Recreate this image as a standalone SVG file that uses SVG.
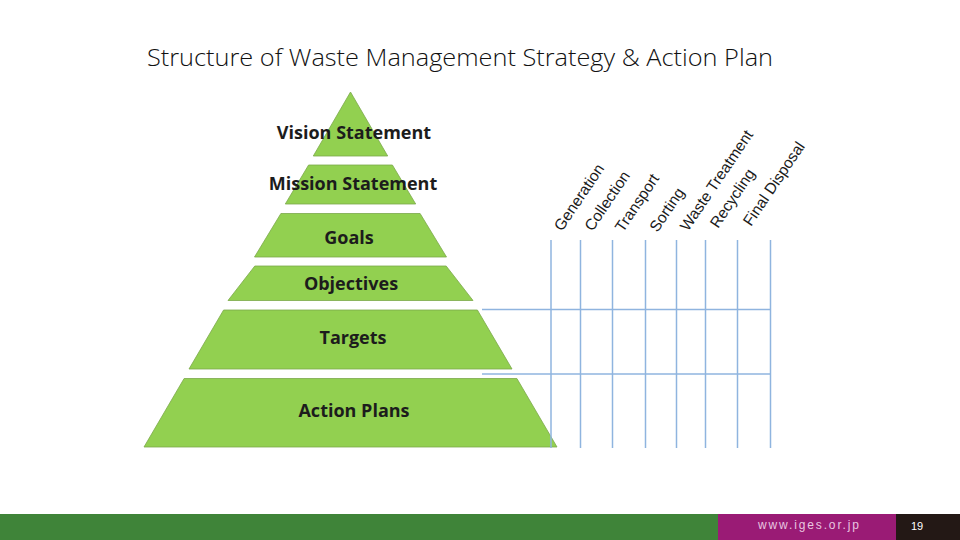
<svg xmlns="http://www.w3.org/2000/svg" width="960" height="540" viewBox="0 0 960 540">
<style>
.band{fill:#92D050;stroke:#7BA84A;stroke-width:0.8}
.lbl{font-family:"Open Sans","Noto Sans","Liberation Sans",sans-serif;font-weight:700;font-size:18px;fill:#1C1C1C;text-anchor:middle}
.grid{stroke:#8FB4DF;stroke-width:1.5;fill:none}
.col{font-family:"Liberation Sans",Arial,sans-serif;font-size:15.5px;fill:#1A1A1A}
.title{font-family:"Open Sans","Liberation Sans",sans-serif;font-weight:300;font-size:24px;fill:#111}
</style>
<rect width="960" height="540" fill="#FFFFFF"/>
<text class="title" x="147" y="66" textLength="626" lengthAdjust="spacingAndGlyphs">Structure of Waste Management Strategy &amp; Action Plan</text>

<g id="vision">
<polygon class="band" points="350.5,92 387.7,156 313.3,156"/>
<text class="lbl" x="354" y="139">Vision Statement</text>
</g>
<g id="mission">
<polygon class="band" points="308.6,165 392.4,165 415.7,204 285.3,204"/>
<text class="lbl" x="353" y="190">Mission Statement</text>
</g>
<g id="goals">
<polygon class="band" points="280.9,213.5 420.1,213.5 446.5,257 254.5,257"/>
<text class="lbl" x="349" y="244">Goals</text>
</g>
<g id="objectives">
<polygon class="band" points="254.8,266 446.2,266 473,300.5 228,300.5"/>
<text class="lbl" x="351" y="290">Objectives</text>
</g>
<g id="targets">
<polygon class="band" points="223.6,310 477.4,310 512,369 189,369"/>
<text class="lbl" x="353" y="344">Targets</text>
</g>
<g id="action-plans">
<polygon class="band" points="184.1,378.5 516.9,378.5 557,447 144,447"/>
<text class="lbl" x="354" y="417">Action Plans</text>
</g>

<g id="connectors">
<line class="grid" x1="551" y1="240" x2="551" y2="448"/>
<line class="grid" x1="580.5" y1="240" x2="580.5" y2="448"/>
<line class="grid" x1="612.5" y1="240" x2="612.5" y2="448"/>
<line class="grid" x1="645.5" y1="240" x2="645.5" y2="448"/>
<line class="grid" x1="676.5" y1="240" x2="676.5" y2="448"/>
<line class="grid" x1="705.5" y1="240" x2="705.5" y2="448"/>
<line class="grid" x1="737.5" y1="240" x2="737.5" y2="448"/>
<line class="grid" x1="770.5" y1="240" x2="770.5" y2="448"/>
<line class="grid" x1="482" y1="309.5" x2="770.5" y2="309.5"/>
<line class="grid" x1="482" y1="374" x2="770.5" y2="374"/>
</g>

<g id="column-labels">
<text class="col" transform="translate(562,232) rotate(-56)">Generation</text>
<text class="col" transform="translate(592.5,232) rotate(-56)">Collection</text>
<text class="col" transform="translate(623,233) rotate(-56)">Transport</text>
<text class="col" transform="translate(657.5,233) rotate(-56)">Sorting</text>
<text class="col" transform="translate(688,232) rotate(-56)">Waste Treatment</text>
<text class="col" transform="translate(718,229) rotate(-56)">Recycling</text>
<text class="col" transform="translate(751,227) rotate(-56)">Final Disposal</text>
</g>

<g id="footer">
<rect x="0" y="514" width="960" height="26" fill="#3F8439"/>
<rect x="718" y="514" width="178" height="26" fill="#9A1B75"/>
<rect x="896" y="514" width="64" height="26" fill="#231815"/>
<text x="758" y="529" font-family="'Liberation Sans',Arial,sans-serif" font-size="12" fill="#E9C6E0" textLength="101" lengthAdjust="spacing">www.iges.or.jp</text>
<text x="917" y="530" font-family="'Liberation Sans',Arial,sans-serif" font-size="11" fill="#FFFFFF" text-anchor="middle">19</text>
</g>
</svg>
